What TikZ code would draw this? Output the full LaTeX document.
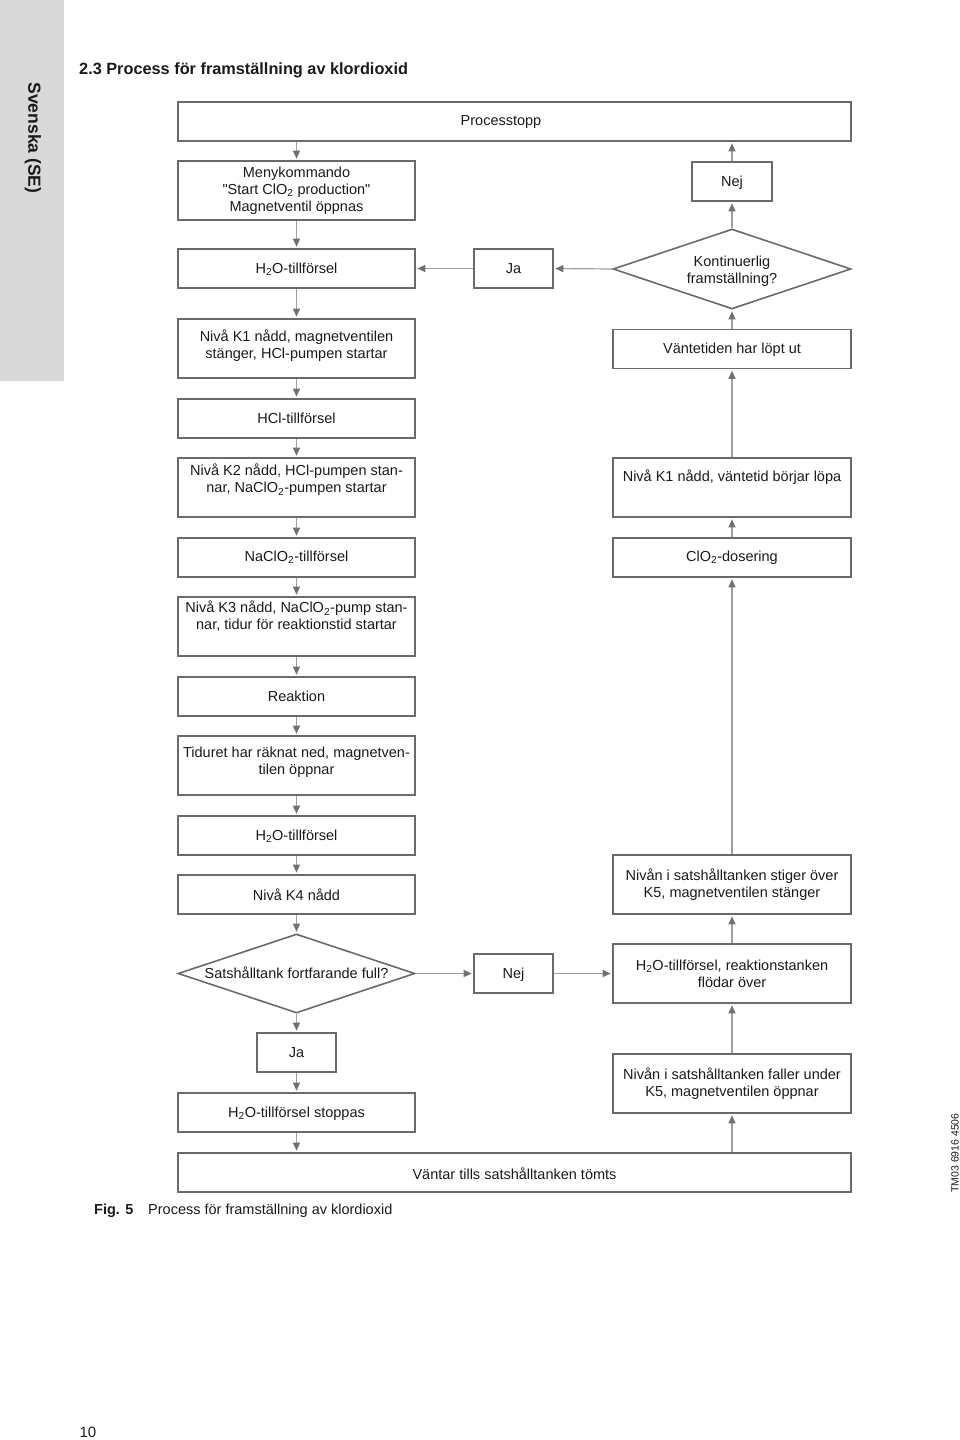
\documentclass[tikz,border=0pt]{standalone}
\usepackage{fontspec}
\setmainfont{Liberation Sans}
\newfontfamily\qfont{Liberation Sans}
\usetikzlibrary{arrows.meta,shapes.geometric}
\definecolor{boxc}{HTML}{6A6A6A}
\definecolor{linec}{HTML}{A0A0A0}
\definecolor{tipc}{HTML}{717171}
\definecolor{sidec}{HTML}{D9D9D9}
\definecolor{txtc}{HTML}{1A1A1A}
\newcommand\bodyfs{\fontsize{14.5}{17}\selectfont}
\newcommand\dq{{\qfont"}}
\begin{document}
\begin{tikzpicture}[x=1pt,y=-1pt,
  every node/.style={text=txtc},
  box/.style={draw=boxc, line width=1.6pt, minimum width=237pt, minimum height=39pt, inner sep=0pt, align=center, font=\bodyfs},
  rbox/.style={box, minimum width=238pt},
  small/.style={box, minimum width=79pt},
  wide/.style={box, minimum width=673pt},
  dia/.style={draw=boxc, line width=1.6pt, diamond, inner sep=0pt, minimum width=238pt, minimum height=80pt},
  txt/.style={inner sep=0pt, align=center, font=\bodyfs},
  conn/.style={draw=linec, line width=1.2pt, -{Triangle[length=8pt,width=7pt,color=tipc]}, shorten >=1.5pt}]
\useasboundingbox (0,0) rectangle (960,1440);
\fill[sidec] (0,0) rectangle (64,381);
\node[rotate=-90, font=\fontsize{17.5}{20}\selectfont\bfseries, inner sep=0pt] (side) at (33,138) {Svenska (SE)};
\node[anchor=west, font=\fontsize{16.3}{19}\selectfont\bfseries, inner sep=0pt] (title) at (79,70) {2.3 Process för framställning av klordioxid};

% boxes
\node[wide] (proc) at (514.5,121.5) {};
\node[txt] (proct) at (501,122.5) {Processtopp};
\node[box, minimum height=59pt] (meny) at (296.5,190.5) {Menykommando\\\dq Start ClO\textsubscript{2} production\dq\\Magnetventil öppnas};
\node[small, minimum width=80pt] (nej1) at (732,181.5) {};
\node[txt] (nej1t) at (732,183) {Nej};
\node[box] (h2o1) at (296.5,268.5) {};
\node[txt] (h2o1t) at (296.5,269.5) {H\textsubscript{2}O-tillförsel};
\node[small] (ja1) at (513.5,268.5) {Ja};
\node[dia] (dia1) at (732,269) {};
\node[txt] (dia1t) at (732,271.5) {Kontinuerlig\\framställning?};
\node[box, minimum height=59pt] (k1) at (296.5,348.5) {};
\node[txt] (k1t) at (296.5,345.5) {Nivå K1 nådd, magnetventilen\\stänger, HCl-pumpen startar};
\node[rbox] (vent) at (732,349) {};
\node[txt] (ventt) at (732,350) {Väntetiden har löpt ut};
\node[box] (hcl) at (296.5,418.5) {HCl-tillförsel};
\node[box, minimum height=59pt] (k2) at (296.5,487.5) {};
\node[txt] (k2t) at (296.5,480) {Nivå K2 nådd, HCl-pumpen stan-\\nar, NaClO\textsubscript{2}-pumpen startar};
\node[rbox, minimum height=59pt] (k1v) at (732,487.5) {};
\node[txt] (k1vt) at (732,477) {Nivå K1 nådd, väntetid börjar löpa};
\node[box] (na) at (296.5,557.5) {NaClO\textsubscript{2}-tillförsel};
\node[rbox] (clo) at (732,557.5) {ClO\textsubscript{2}-dosering};
\node[box, minimum height=59pt] (k3) at (296.5,626.5) {};
\node[txt] (k3t) at (296.5,616.5) {Nivå K3 nådd, NaClO\textsubscript{2}-pump stan-\\nar, tidur för reaktionstid startar};
\node[box] (reak) at (296.5,696.5) {Reaktion};
\node[box, minimum height=59pt] (tid) at (296.5,765.5) {};
\node[txt] (tidt) at (296.5,762) {Tiduret har räknat ned, magnetven-\\tilen öppnar};
\node[box] (h2o2) at (296.5,835.5) {};
\node[txt] (h2o2t) at (296.5,836.5) {H\textsubscript{2}O-tillförsel};
\node[box] (k4) at (296.5,894.5) {Nivå K4 nådd};
\node[rbox, minimum height=59pt] (stig) at (732,884.5) {Nivån i satshålltanken stiger över\\K5, magnetventilen stänger};
\node[dia, minimum width=237pt, minimum height=79pt] (dia2) at (296.5,973.5) {};
\node[txt] (dia2t) at (296.5,972.5) {Satshålltank fortfarande full?};
\node[small] (nej2) at (513.5,973.5) {};
\node[txt] (nej2t) at (513.5,975) {Nej};
\node[rbox, minimum height=59pt] (over) at (732,973.5) {H\textsubscript{2}O-tillförsel, reaktionstanken\\flödar över};
\node[small] (ja2) at (296.5,1052.5) {Ja};
\node[rbox, minimum height=59pt] (fall) at (732,1083.5) {Nivån i satshålltanken faller under\\K5, magnetventilen öppnar};
\node[box] (stop) at (296.5,1112.5) {};
\node[txt] (stopt) at (296.5,1113.5) {H\textsubscript{2}O-tillförsel stoppas};
\node[wide] (vant) at (514.5,1172.5) {};
\node[txt] (vantt) at (514.5,1173.5) {Väntar tills satshålltanken tömts};

% connectors, left column
\draw[conn] (proc.south -| meny.north) -- (meny.north);
\draw[conn] (meny) -- (h2o1);
\draw[conn] (h2o1) -- (k1);
\draw[conn] (k1) -- (hcl);
\draw[conn] (hcl) -- (k2);
\draw[conn] (k2) -- (na);
\draw[conn] (na) -- (k3);
\draw[conn] (k3) -- (reak);
\draw[conn] (reak) -- (tid);
\draw[conn] (tid) -- (h2o2);
\draw[conn] (h2o2) -- (k4);
\draw[conn] (k4.south) -- (dia2.north);
\draw[conn] (dia2.south) -- (ja2.north);
\draw[conn] (ja2) -- (stop);
\draw[conn] (stop.south) -- (stop.south |- vant.north);
\draw[conn] (dia2.east) -- (nej2.west);
\draw[conn] (nej2.east) -- (over.west);
% right column
\draw[conn] (vant.north -| fall.south) -- (fall.south);
\draw[conn] (fall) -- (over);
\draw[conn] (over) -- (stig);
\draw[conn] (stig.north) -- (clo.south);
\draw[conn] (clo) -- (k1v);
\draw[conn] (k1v) -- (vent);
\draw[conn] (vent.north) -- (dia1.south);
\draw[conn] (dia1.north) -- (nej1.south);
\draw[conn] (nej1.north) -- (nej1.north |- proc.south);
\draw[conn] (dia1.west) -- (ja1.east);
\draw[conn] (ja1.west) -- (h2o1.east);

% caption and margins
\node[anchor=west, font=\fontsize{14.5}{17}\selectfont\bfseries, inner sep=0pt] (fig) at (94,1211) {Fig. 5};
\node[anchor=west, font=\bodyfs, inner sep=0pt] (cap) at (148,1211) {Process för framställning av klordioxid};
\node[rotate=90, font=\fontsize{10.5}{12}\selectfont, inner sep=0pt] (tm) at (955,1153) {TM03 6916 4506};
\node[font=\fontsize{15}{18}\selectfont, inner sep=0pt] (page) at (88,1432) {10};
\end{tikzpicture}
\end{document}
